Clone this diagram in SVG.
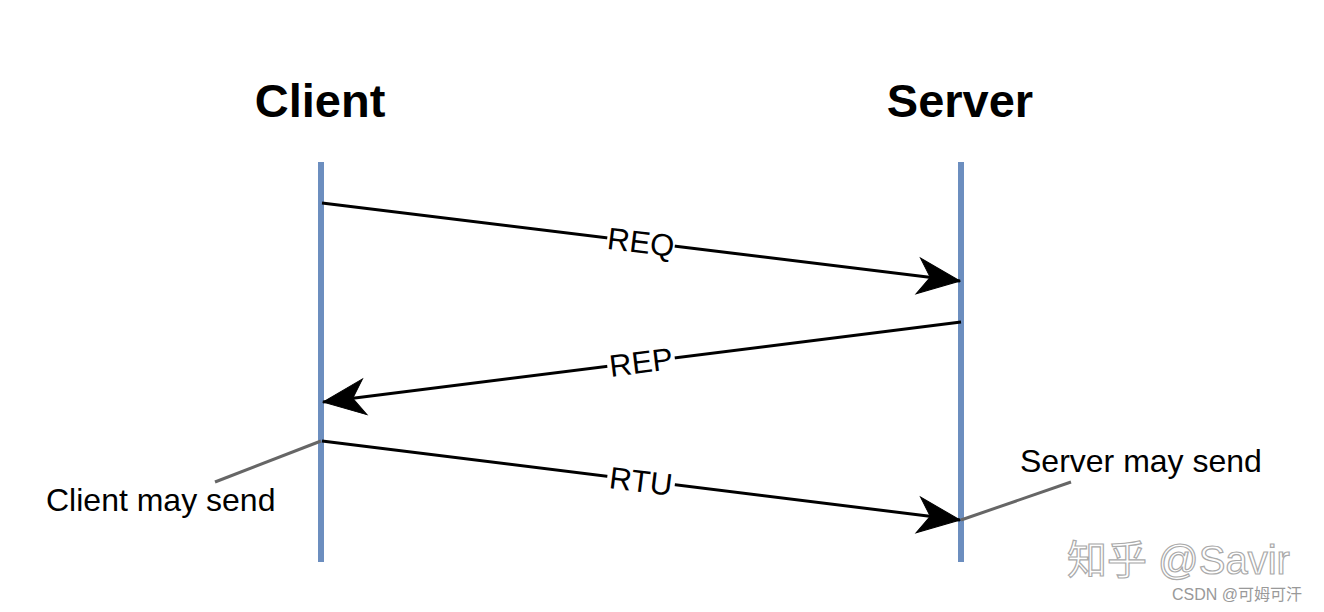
<svg xmlns="http://www.w3.org/2000/svg" width="1324" height="612" viewBox="0 0 1324 612">
<style>
.title{font-family:"Liberation Sans",Arial,sans-serif;font-weight:bold;font-size:47px;fill:#000;text-anchor:middle}
.lbl{font-family:"Liberation Sans",Arial,sans-serif;font-size:31px;fill:#000;text-anchor:middle}
.note{font-family:"Liberation Sans",Arial,sans-serif;font-size:32px;fill:#000}
.life{stroke:#6c8ebf;stroke-width:6;fill:none}
.msg{stroke:#000;stroke-width:3;fill:none}
.ann{stroke:#666;stroke-width:3;fill:none}
.bg{fill:#fff}
.wm{font-family:"Liberation Sans","Noto Sans CJK SC",sans-serif;fill:#fff;stroke:#aaa;stroke-width:1.2}
.wm2{font-family:"Liberation Sans","Noto Sans CJK SC",sans-serif;fill:#999;font-size:16px}
</style>
<defs>
<marker id="arr" markerUnits="userSpaceOnUse" orient="auto" markerWidth="50" markerHeight="40" refX="0" refY="0" viewBox="-44 -20 46 40" overflow="visible">
<path d="M0,0 L-42,-18 L-30,0 L-42,18 Z" fill="#000" stroke="#000" stroke-width="1"/>
</marker>
</defs>
<rect width="1324" height="612" fill="#fff"/>
<g id="client">
<text class="title" x="320" y="117">Client</text>
<line class="life" x1="321" y1="162" x2="321" y2="562"/>
</g>
<g id="server">
<text class="title" x="960" y="117">Server</text>
<line class="life" x1="961" y1="162" x2="961" y2="562"/>
</g>
<g id="connectors">
<line class="msg" x1="322" y1="203" x2="960" y2="281" marker-end="url(#arr)"/>
<line class="msg" x1="961" y1="322" x2="323" y2="402" marker-end="url(#arr)"/>
<line class="msg" x1="322" y1="441" x2="960" y2="520" marker-end="url(#arr)"/>
<line class="ann" x1="321" y1="441" x2="215" y2="482"/>
<line class="ann" x1="961" y1="520" x2="1071" y2="482"/>
<g transform="rotate(6.96 641 242)">
<rect class="bg" x="607" y="228" width="68" height="28"/>
<text class="lbl" x="641" y="253">REQ</text>
</g>
<g transform="rotate(-7.14 641 362)">
<rect class="bg" x="607" y="348" width="68" height="28"/>
<text class="lbl" x="641" y="373">REP</text>
</g>
<g transform="rotate(7.04 641 481)">
<rect class="bg" x="607" y="467" width="68" height="28"/>
<text class="lbl" x="641" y="492">RTU</text>
</g>
</g>
<g id="client-note">
<text class="note" x="46" y="511">Client may send</text>
</g>
<g id="server-note">
<text class="note" x="1020" y="472">Server may send</text>
</g>
<g id="watermark">
<text class="wm" x="1067" y="574" font-size="40">知乎 @Savir</text>
<text class="wm2" x="1172" y="600">CSDN @可姆可汗</text>
</g>
</svg>
